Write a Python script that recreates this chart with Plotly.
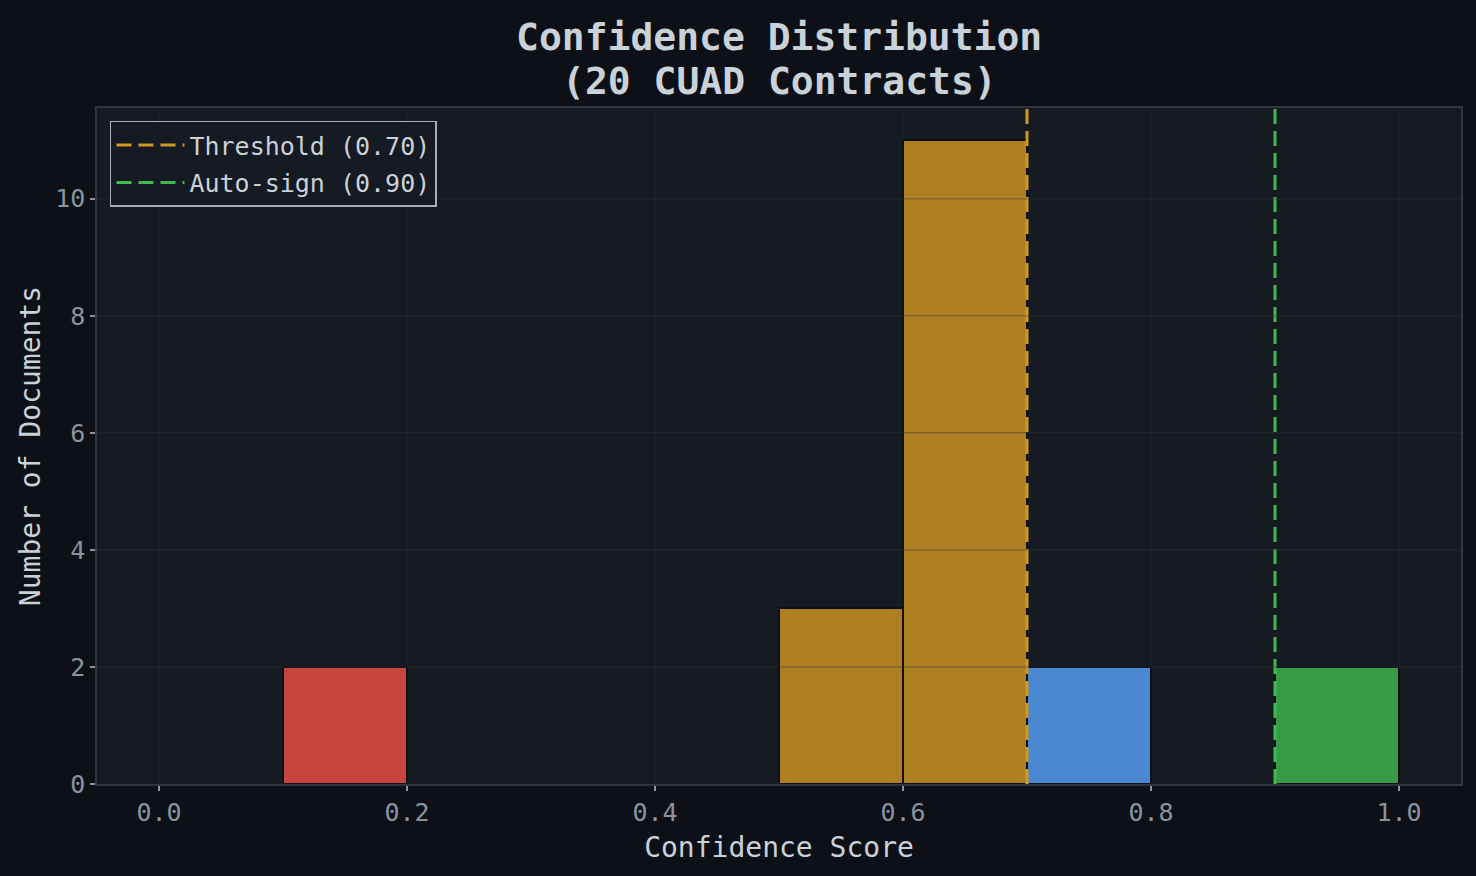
import plotly.graph_objects as go

# ---- data ----
bin_starts = [0.0, 0.1, 0.2, 0.3, 0.4, 0.5, 0.6, 0.7, 0.8, 0.9]
counts = [0, 2, 0, 0, 0, 3, 11, 2, 0, 2]
bin_width = 0.1
bin_colors = ["#c8453f", "#c8453f", "#c8453f", "#c8453f", "#ad7f22",
              "#ad7f22", "#ad7f22", "#4a89d1", "#4a89d1", "#379a47"]

thresholds = [0.70, 0.90]
threshold_names = ["Threshold (0.70)", "Auto-sign (0.90)"]
threshold_colors = ["#d29922", "#3fb950"]

x_ticks = [0.0, 0.2, 0.4, 0.6, 0.8, 1.0]
x_tick_text = ["0.0", "0.2", "0.4", "0.6", "0.8", "1.0"]
y_ticks = [0, 2, 4, 6, 8, 10]

x_range = [-0.05, 1.05]
y_range = [0, 11.55]

title_lines = ["Confidence Distribution", "(20 CUAD Contracts)"]

FONT = "DejaVu Sans Mono"
BG = "#0d1117"
PLOT_BG = "#161b22"
GRID_BG = "rgba(60,66,74,0.18)"
GRID_BAR = "rgba(48,54,61,0.35)"

xs = [s + bin_width / 2 for s, c in zip(bin_starts, counts) if c > 0]
ys = [c for c in counts if c > 0]
cols = [col for col, c in zip(bin_colors, counts) if c > 0]

fig = go.Figure()
fig.add_trace(go.Bar(
    x=xs, y=ys, width=bin_width,
    marker=dict(color=cols, line=dict(color="#0d1117", width=2)),
    showlegend=False, hoverinfo="x+y",
))

for t, name, col in zip(thresholds, threshold_names, threshold_colors):
    fig.add_trace(go.Scatter(
        x=[t, t], y=y_range, mode="lines", name=name, legendgroup=name,
        line=dict(color=col, width=3, dash="15px,7px"),
    ))

# grid: faint on background, drawn above bars as in reference
for yv in y_ticks[1:]:
    fig.add_shape(type="line", xref="paper", x0=0, x1=1, yref="y", y0=yv, y1=yv,
                  line=dict(color=GRID_BAR, width=1.5), layer="above")
for xv in x_ticks:
    fig.add_shape(type="line", yref="paper", y0=0, y1=1, xref="x", x0=xv, x1=xv,
                  line=dict(color=GRID_BG, width=1.5), layer="below")

# two-line bold title
for line, shift in zip(title_lines, [71, 27]):
    fig.add_annotation(text="<b>" + line + "</b>", xref="paper", yref="paper",
                       x=0.5, y=1, xanchor="center", yanchor="middle", yshift=shift,
                       showarrow=False,
                       font=dict(size=38, color="#c9d1d9", family=FONT))

fig.update_layout(
    width=1476, height=876,
    paper_bgcolor=BG, plot_bgcolor=PLOT_BG,
    margin=dict(l=97, r=15, t=108, b=92),
    font=dict(family=FONT, color="#c9d1d9"),
    bargap=0,
    legend=dict(x=0.0095, y=0.981, xanchor="left", yanchor="top",
                bgcolor="rgba(22,27,34,0.9)", bordercolor="#a8adb3", borderwidth=1.5,
                font=dict(size=25, color="#c9d1d9", family=FONT),
                itemwidth=68, tracegroupgap=2),
    xaxis=dict(range=x_range, tickvals=x_ticks, ticktext=x_tick_text,
               showgrid=False, zeroline=False,
               ticks="outside", ticklen=5, tickwidth=1.5, tickcolor="#8b949e",
               tickfont=dict(size=25, color="#8b949e", family=FONT),
               showline=True, linecolor="#30363d", linewidth=1.5, mirror=True,
               title=dict(text="Confidence Score", font=dict(size=28, color="#c9d1d9", family=FONT),
                          standoff=12)),
    yaxis=dict(range=y_range, tickvals=y_ticks,
               showgrid=False, zeroline=False,
               ticks="outside", ticklen=5, tickwidth=1.5, tickcolor="#8b949e",
               tickfont=dict(size=25, color="#8b949e", family=FONT),
               showline=True, linecolor="#30363d", linewidth=1.5, mirror=True,
               title=dict(text="Number of Documents", font=dict(size=28, color="#c9d1d9", family=FONT),
                          standoff=6)),
)

fig.write_html("out.html", config={"displayModeBar": False},
               post_script="document.body.style.margin='0px';document.body.style.background='#0d1117';")
